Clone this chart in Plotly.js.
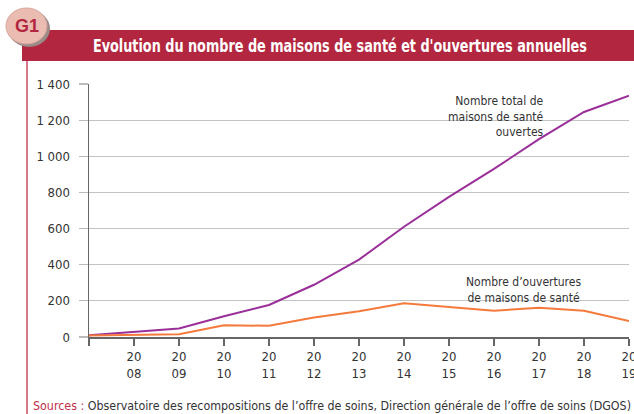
<!DOCTYPE html>
<html><head><meta charset="utf-8">
<script src="https://cdn.plot.ly/plotly-3.0.1.min.js"></script>
<style>html,body{margin:0;padding:0;background:#fff}#c{width:634px;height:414px}</style>
</head><body><div id="c"></div>
<script>
const years = [2007,2008,2009,2010,2011,2012,2013,2014,2015,2016,2017,2018,2019];
const totalMaisons = [10,28,47,115,177,289,428,610,775,930,1095,1245,1335];
const ouverturesAnnuelles = [8,13,15,65,62,108,143,187,168,145,162,145,89];
const xTickLabels = ['', '20<br>08','20<br>09','20<br>10','20<br>11','20<br>12','20<br>13','20<br>14','20<br>15','20<br>16','20<br>17','20<br>18','20<br>19'];
const yTickVals = [0,200,400,600,800,1000,1200,1400];
const yTickLabels = ['0','200','400','600','800','1 000','1 200','1 400'];

const W=634,H=414,L=89,R=5,T=84,B=77;
const pw=W-L-R, ph=H-T-B;
const px = x => (x-L)/pw;
const py = y => (H-B-y)/ph;
const FONT = '"DejaVu Sans Condensed","Liberation Sans",sans-serif';
const RED = '#b3263f';

const traces = [
 {x: years, y: totalMaisons, type:'scatter', mode:'lines', line:{color:'#9b2f99', width:2}, hoverinfo:'none', cliponaxis:false},
 {x: years, y: ouverturesAnnuelles, type:'scatter', mode:'lines', line:{color:'#f47a3c', width:2}, hoverinfo:'none', cliponaxis:false}
];

const layout = {
 width:W, height:H, margin:{l:L,r:R,t:T,b:B},
 paper_bgcolor:'#fff', plot_bgcolor:'#fff', showlegend:false,
 font:{family:FONT, size:13, color:'#333'},
 xaxis:{range:[2007,2019], tickvals:years, ticktext:xTickLabels, ticks:'outside', ticklen:7, tickcolor:'#666', tickwidth:1.2,
   ticklabeloverflow:'allow',
   showline:true, linecolor:'#666', linewidth:1.5, showgrid:false, zeroline:false, tickfont:{size:13, family:FONT, color:'#333'}},
 yaxis:{range:[0,1400], tickvals:yTickVals, ticktext:yTickLabels, ticks:'outside', ticklen:9, tickcolor:'#bbb', tickwidth:1.2,
   showline:true, linecolor:'#666', linewidth:1.5, showgrid:true, gridcolor:'#c4c4c4', gridwidth:1.2, zeroline:false,
   ticklabelstandoff:6, tickfont:{size:13, family:FONT, color:'#333'}},
 shapes:[
  {type:'rect', xref:'paper', yref:'paper', x0:px(22), x1:px(640), y0:py(61), y1:py(30), fillcolor:RED, line:{width:0}, layer:'below'},
  {type:'line', xref:'paper', yref:'paper', x0:px(27), x1:px(27), y0:py(61), y1:py(420), line:{color:'#c94a64', width:1.5}},
  {type:'circle', xref:'paper', yref:'paper', x0:px(8), x1:px(50), y0:py(47), y1:py(10), fillcolor:'#9a8a88', line:{width:0}},
  {type:'circle', xref:'paper', yref:'paper', x0:px(6), x1:px(47), y0:py(44), y1:py(8), fillcolor:'#ebbcb2', line:{color:'#d8a59a', width:1}}
 ],
 annotations:[
  {xref:'paper', yref:'paper', x:px(340), y:py(46), text:'<b>Evolution du nombre de maisons de santé et d\'ouvertures annuelles</b>', showarrow:false,
   font:{family:FONT, size:17, color:'#fff'}, xanchor:'center', yanchor:'middle', name:'title'},
  {xref:'paper', yref:'paper', x:px(26.5), y:py(26), text:'<b>G1</b>', showarrow:false,
   font:{family:'"Liberation Sans",sans-serif', size:18, color:RED}, xanchor:'center', yanchor:'middle'},
  {xref:'paper', yref:'paper', x:px(546), y:py(92), text:'Nombre total de<br>maisons de santé<br>ouvertes', showarrow:false, align:'right',
   font:{family:FONT, size:12, color:'#333'}, xanchor:'right', yanchor:'top'},
  {xref:'paper', yref:'paper', x:px(523), y:py(273), text:'Nombre d\u2019ouvertures<br>de maisons de santé', showarrow:false, align:'center',
   font:{family:FONT, size:12, color:'#333'}, xanchor:'center', yanchor:'top'},
  {xref:'paper', yref:'paper', x:px(31), y:py(405), text:'<span style="color:#c0304a">Sources :</span> Observatoire des recompositions de l\u2019offre de soins, Direction générale de l\u2019offre de soins (DGOS)', showarrow:false,
   font:{family:FONT, size:13, color:'#333'}, xanchor:'left', yanchor:'middle', align:'left', name:'sources'}
 ]
};
Plotly.newPlot('c', traces, layout, {staticPlot:true, displayModeBar:false}).then(function(gd){
  const texts = gd.querySelectorAll('.annotation-text');
  // title (index 0) and sources (index 4): fit to reference widths
  const fit = [[0, 494], [4, 598]];
  fit.forEach(function(p){
    const t = texts[p[0]];
    if (t) { t.setAttribute('textLength', p[1]); t.setAttribute('lengthAdjust', 'spacingAndGlyphs'); }
  });
});
</script></body></html>
